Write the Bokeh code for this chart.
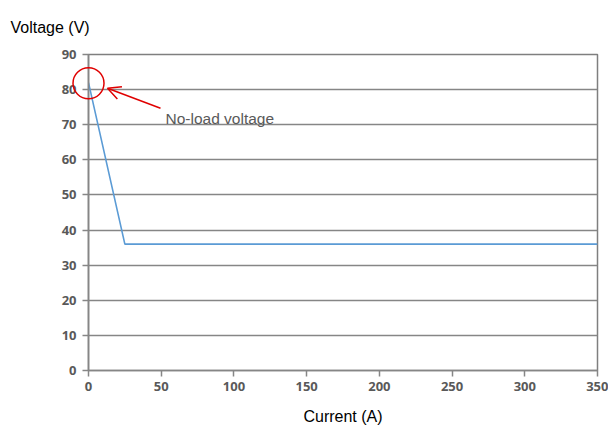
from bokeh.plotting import figure
from bokeh.models import Range1d, Label, Arrow, OpenHead, FixedTicker
from bokeh.core.properties import value
from bokeh.embed import file_html
from bokeh.resources import INLINE

# data
current_a = [0, 25, 350]
voltage_v = [82, 36, 36]
x_ticks = [0, 50, 100, 150, 200, 250, 300, 350]
y_ticks = [0, 10, 20, 30, 40, 50, 60, 70, 80, 90]
no_load_current = [0]
no_load_voltage = [81.8]
annotation_text = "No-load voltage"
y_title = "Voltage (V)"

p = figure(width=608, height=427, output_backend="svg", toolbar_location=None,
           x_range=Range1d(0, 350), y_range=Range1d(0, 90),
           min_border_left=88, min_border_right=11, min_border_top=54, min_border_bottom=57)
p.background_fill_color = "white"
p.border_fill_color = "white"
p.outline_line_color = "#7f7f7f"
p.outline_line_width = 1.5

grid_c = "#868686"
p.xgrid.grid_line_color = None
p.ygrid.grid_line_color = grid_c
p.ygrid.grid_line_width = 1.6
p.yaxis.ticker = FixedTicker(ticks=y_ticks)
p.xaxis.ticker = FixedTicker(ticks=x_ticks)

for ax in (p.xaxis, p.yaxis):
    ax.axis_line_color = grid_c
    ax.axis_line_width = 1.6
    ax.major_tick_line_color = grid_c
    ax.major_tick_line_width = 1.5
    ax.major_tick_out = 6
    ax.major_tick_in = 0
    ax.minor_tick_line_color = None
    ax.major_label_text_font = "Open Sans"
    ax.major_label_text_font_style = "bold"
    ax.major_label_text_font_size = "13px"
    ax.major_label_text_color = "#595959"
p.yaxis.major_label_standoff = 6
p.xaxis.major_label_standoff = 5

p.xaxis.axis_label = "Current (A)"
p.xaxis.axis_label_text_font = "Liberation Sans"
p.xaxis.axis_label_text_font_style = "normal"
p.xaxis.axis_label_text_font_size = "16px"
p.xaxis.axis_label_text_color = "black"
p.xaxis.axis_label_standoff = 14

p.line(current_a, voltage_v, line_color="#5b9bd5", line_width=1.6)

# pixel scale helpers for annotation offsets
px_x = 350 / 509.0
px_y = 90 / 316.0

# y-axis title, above the plot area at the top left
p.text(x=[-78 * px_x], y=[90 + 27 * px_y], text=[y_title], text_font=value("Liberation Sans"),
       text_font_size="16px", text_color="black", text_baseline="alphabetic", level="overlay")

# red circle marking the no-load point
p.scatter(no_load_current, no_load_voltage, size=31, marker="circle", fill_color=None,
          line_color="#e00000", line_width=1.5, level="overlay")

x0, y0 = no_load_current[0], no_load_voltage[0]

arrow = Arrow(x_start=x0 + 72 * px_x, y_start=y0 - 25 * px_y,
              x_end=x0 + 19 * px_x, y_end=y0 - 5 * px_y,
              line_color="#e00000", line_width=1.5,
              end=OpenHead(size=13, line_color="#e00000", line_width=1.5))
p.add_layout(arrow)

lab = Label(x=x0 + 77 * px_x, y=y0 - 35 * px_y, text=annotation_text,
            text_font="Liberation Sans", text_font_size="15.5px", text_color="#595959",
            text_baseline="alphabetic")
p.add_layout(lab)

open("out.html", "w").write(file_html(p, INLINE))
